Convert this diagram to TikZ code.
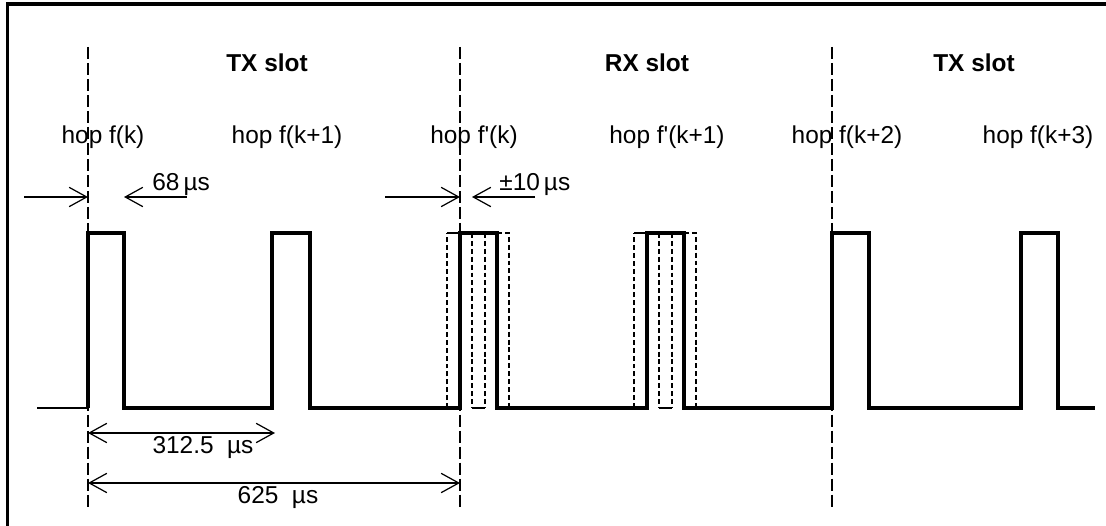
\documentclass[tikz,border=0pt]{standalone}
\usepackage{fontspec}
\setmainfont{Liberation Sans}
\usetikzlibrary{arrows.meta}

\begin{document}
\begin{tikzpicture}[
  x=0.02cm, y=-0.02cm,
  font=\fontsize{13.9}{16}\selectfont,
  signal/.style    = {line width=2pt, line join=miter},
  ghost/.style     = {line width=0.7pt, dash pattern=on 2.8pt off 1.7pt},
  slotline/.style  = {line width=0.7pt, dash pattern=on 6.8pt off 2.3pt},
  dim/.style       = {line width=0.7pt, -{Straight Barb[length=10pt, width=11pt]}},
  dimboth/.style   = {line width=0.7pt,
                      {Straight Barb[length=10pt, width=11pt]}-{Straight Barb[length=10pt, width=11pt]}},
  slotlabel/.style = {font=\fontsize{13.9}{16}\selectfont\bfseries, anchor=base, inner sep=0pt},
  hoplabel/.style  = {anchor=base, inner sep=0pt},
  dimlabel/.style  = {anchor=base, inner sep=0pt}
]
\useasboundingbox (0,0) rectangle (1106,526);

% ── Frame ────────────────────────────────────────────────────────────────────
\draw[line width=2.2pt] (7.5,530) -- (7.5,4) -- (1110,4);

% ── Slot boundaries ──────────────────────────────────────────────────────────
\foreach \x/\n in {88/a, 460/b, 832/c} {
  \coordinate (top\n) at (\x,47);
  \coordinate (bot\n) at (\x,507);
  \draw[slotline] (top\n) -- (bot\n);
}

% ── Slot and hop labels ──────────────────────────────────────────────────────
\node[slotlabel] (txa) at (267,72) {TX slot};
\node[slotlabel] (rx)  at (647,72) {RX slot};
\node[slotlabel] (txb) at (974,72) {TX slot};

\node[hoplabel] (hop0) at (103,144)  {hop f(k)};
\node[hoplabel] (hop1) at (287,144)  {hop f(k+1)};
\node[hoplabel] (hop2) at (474,144)  {hop f\textquotesingle(k)};
\node[hoplabel] (hop3) at (667,144)  {hop f\textquotesingle(k+1)};
\node[hoplabel] (hop4) at (847,144)  {hop f(k+2)};
\node[hoplabel] (hop5) at (1038,144) {hop f(k+3)};

% ── Hop signal ───────────────────────────────────────────────────────────────
\draw[line width=0.7pt] (37,408) -- (88,408);
\draw[signal] (88,408) -- (88,233) -- (124,233) -- (124,408)
  -- (272,408) -- (272,233) -- (310,233) -- (310,408)
  -- (460,408) -- (460,233) -- (497,233) -- (497,408)
  -- (647,408) -- (647,233) -- (684,233) -- (684,408)
  -- (832,408) -- (832,233) -- (869,233) -- (869,408)
  -- (1021,408) -- (1021,233) -- (1058,233) -- (1058,408) -- (1095,408);

% ── RX uncertainty (+-10 us) ─────────────────────────────────────────────────
\foreach \s in {460, 647} {
  \draw[ghost] (\s-13,408) -- (\s-13,233);
  \draw[line width=0.7pt] (\s-13,233) -- (\s,233);
  \draw[ghost] (\s+25,233) -- (\s+25,408);
  \draw[ghost] (\s+12,233) -- (\s+12,408);
  \draw[line width=0.7pt] (\s+12,408) -- (\s+25,408);
  \draw[ghost] (\s+37,233) -- (\s+49,233) -- (\s+49,408);
}

% ── Dimensions ───────────────────────────────────────────────────────────────
\coordinate (g0) at (24,197);
\coordinate (g1) at (88,197);
\coordinate (g2) at (124,197);
\coordinate (g3) at (187,197);
\draw[dim] (g0) -- (g1);
\draw[dim] (g3) -- (g2);
\node[dimlabel, anchor=base west] (t68) at (152,191) {68\,µs};

\coordinate (j0) at (385,197);
\coordinate (j1) at (460,197);
\coordinate (j2) at (472,197);
\coordinate (j3) at (535,197);
\draw[dim] (j0) -- (j1);
\draw[dim] (j3) -- (j2);
\node[dimlabel, anchor=base west] (t10) at (499,191) {±10\,µs};

\coordinate (h0) at (88,433);
\coordinate (h1) at (275,433);
\draw[dimboth] (h0) -- (h1);
\node[dimlabel] (thalf) at (203,454) {312.5\ \ µs};

\coordinate (s0) at (88,483);
\coordinate (s1) at (460,483);
\draw[dimboth] (s0) -- (s1);
\node[dimlabel] (tslot) at (278,504) {625\ \ µs};

\end{tikzpicture}
\end{document}
